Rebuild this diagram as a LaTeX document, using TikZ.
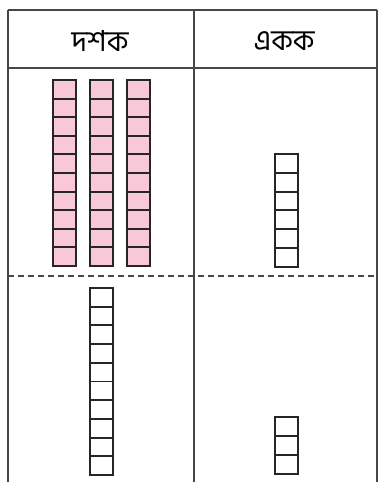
\documentclass[tikz,border=0pt]{standalone}
\usepackage{fontspec}
\newfontfamily\bengalifont[Script=Bengali]{Hind Siliguri}
\definecolor{rodpink}{RGB}{248,200,216}
\definecolor{gridgray}{RGB}{70,70,70}

\begin{document}
\begin{tikzpicture}[x=1pt,y=-1pt,
    rule/.style={gridgray,line width=1.7pt},
    cell/.style={draw=black!85,line width=1.9pt},
    head/.style={font=\bengalifont\fontsize{29}{34}\selectfont}]
  \useasboundingbox (0,0) rectangle (380,482);
  % ---------- table frame
  \coordinate (tl) at (8,10);
  \coordinate (tr) at (377,10);
  \coordinate (bl) at (8,482);
  \coordinate (br) at (377,482);
  \coordinate (tm) at (194,10);
  \coordinate (bm) at (194,482);
  \draw[rule] (tl) -- (tr);
  \draw[rule] (tl) -- (bl);
  \draw[rule] (tr) -- (br);
  \draw[rule] (tm) -- (bm);
  \draw[rule] (8,68) -- (377,68);
  \draw[rule,dash pattern=on 6pt off 4pt] (8,276) -- (377,276);
  % ---------- headings
  \node[head] (tens) at (100,41) {দশক};
  \node[head] (ones) at (284,41) {একক};
  % ---------- upper row: three tens rods and six ones
  \foreach \x in {53,90,127}{
    \foreach \k in {0,...,9}
      \draw[cell,fill=rodpink] (\x,80+\k*18.6) rectangle ++(23,18.6);}
  \foreach \k in {0,...,5}
    \draw[cell] (275,154+\k*18.8) rectangle ++(23,18.8);
  % ---------- lower row: one tens rod and three ones
  \foreach \k in {0,...,9}
    \draw[cell] (90,288+\k*18.7) rectangle ++(23,18.7);
  \foreach \k in {0,...,2}
    \draw[cell] (275,417+\k*19) rectangle ++(23,19);
\end{tikzpicture}
\end{document}
